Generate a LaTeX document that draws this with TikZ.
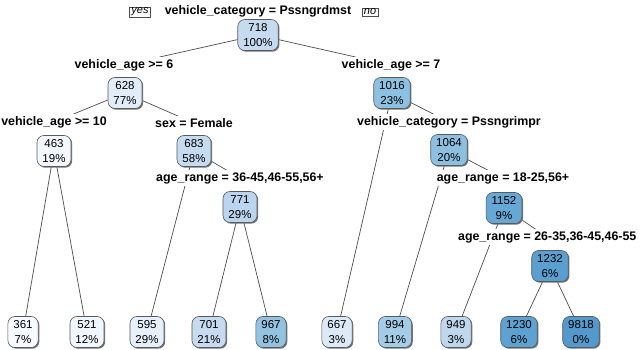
\documentclass[tikz,border=0pt]{standalone}
\usepackage{fontspec}
\setmainfont{Liberation Sans}
\usetikzlibrary{shadows,backgrounds}
\definecolor{c361}{HTML}{F7FBFF}
\definecolor{c463}{HTML}{F2F8FE}
\definecolor{c521}{HTML}{F0F6FD}
\definecolor{c595}{HTML}{E6F0FA}
\definecolor{c628}{HTML}{E1EDF9}
\definecolor{c667}{HTML}{DCE9F6}
\definecolor{c683}{HTML}{C7DBF0}
\definecolor{c701}{HTML}{C6DBEF}
\definecolor{c718}{HTML}{C6DBEF}
\definecolor{c771}{HTML}{BCD5EE}
\definecolor{c949}{HTML}{BED7ED}
\definecolor{c967}{HTML}{93C3E1}
\definecolor{c994}{HTML}{A5CCE7}
\definecolor{c1016}{HTML}{8CC1E2}
\definecolor{c1064}{HTML}{8DC0E0}
\definecolor{c1152}{HTML}{65A8D6}
\definecolor{c1230}{HTML}{5EA2D2}
\definecolor{c1232}{HTML}{5A9FD0}
\definecolor{c9818}{HTML}{5499CB}
\begin{document}
\begin{tikzpicture}[x=1pt,y=-1pt,
  nd/.style={draw=black!65, line width=0.6pt, rounded corners=7pt, align=center,
    font=\fontsize{11.5}{15.5}\selectfont, inner xsep=5.5pt, inner ysep=1pt, minimum height=31pt,
    drop shadow={shadow xshift=1.2pt, shadow yshift=-1.2pt, fill=black!55, opacity=1}},
  lab/.style={fill=white, inner sep=2pt, font=\fontsize{12.4}{14}\bfseries\selectfont},
  yn/.style={draw=black!70, fill=white, line width=0.5pt, inner xsep=2pt, inner ysep=1pt,
    font=\fontsize{11}{12}\selectfont\itshape,
    drop shadow={shadow xshift=0.9pt, shadow yshift=-0.9pt, fill=black!55, opacity=1}},
  edge/.style={draw=black!70, line width=0.7pt}]
\useasboundingbox (0,0) rectangle (640,350);
% root
\node[lab] (lab718) at (258,11) {vehicle\_category = Pssngrdmst};
\node[yn] (yes) at (140,12) {yes};
\node[yn] (no) at (370,12) {no};
\node[nd, fill=c718] (n718) at (258,35) {718\\100\%};
% level 1
\node[lab] (lab628) at (124,65) {vehicle\_age >= 6};
\node[nd, fill=c628] (n628) at (125,93) {628\\77\%};
\node[lab] (lab1016) at (391,65) {vehicle\_age >= 7};
\node[nd, fill=c1016] (n1016) at (392,93) {1016\\23\%};
% level 2
\node[lab] (lab463) at (54,122) {vehicle\_age >= 10};
\node[nd, fill=c463] (n463) at (54,151) {463\\19\%};
\node[lab] (lab683) at (194,123) {sex = Female};
\node[nd, fill=c683] (n683) at (194,151) {683\\58\%};
\node[lab] (lab1064) at (449,122) {vehicle\_category = Pssngrimpr};
\node[nd, fill=c1064] (n1064) at (449,150) {1064\\20\%};
% level 3
\node[lab] (lab771) at (240,178) {age\_range = 36-45,46-55,56+};
\node[nd, fill=c771] (n771) at (240,207) {771\\29\%};
\node[lab] (lab1152) at (503,178) {age\_range = 18-25,56+};
\node[nd, fill=c1152] (n1152) at (504,208) {1152\\9\%};
\node[lab, anchor=west] (lab1232) at (456,237) {age\_range = 26-35,36-45,46-55};
\node[nd, fill=c1232] (n1232) at (550,266) {1232\\6\%};
% leaves
\node[nd, fill=c361] (l361) at (23,332) {361\\7\%};
\node[nd, fill=c521] (l521) at (87,332) {521\\12\%};
\node[nd, fill=c595] (l595) at (147,332) {595\\29\%};
\node[nd, fill=c701] (l701) at (209,332) {701\\21\%};
\node[nd, fill=c967] (l967) at (271,332) {967\\8\%};
\node[nd, fill=c667] (l667) at (337,332) {667\\3\%};
\node[nd, fill=c994] (l994) at (395,332) {994\\11\%};
\node[nd, fill=c949] (l949) at (456,332) {949\\3\%};
\node[nd, fill=c1230] (l1230) at (519,332) {1230\\6\%};
\node[nd, fill=c9818] (l9818) at (581,332) {9818\\0\%};
% edges
\begin{scope}[on background layer]
\draw[edge] (n718) -- (lab628);
\draw[edge] (n718) -- (lab1016);
\draw[edge] (n628) -- (lab463);
\draw[edge] (n628) -- (lab683);
\draw[edge] (n463) -- (l361);
\draw[edge] (n463) -- (l521);
\draw[edge] (n683) -- (l595);
\draw[edge] (n683) -- (lab771);
\draw[edge] (n771) -- (l701);
\draw[edge] (n771) -- (l967);
\draw[edge] (n1016) -- (l667);
\draw[edge] (n1016) -- (lab1064);
\draw[edge] (n1064) -- (l994);
\draw[edge] (n1064) -- (lab1152);
\draw[edge] (n1152) -- (l949);
\draw[edge] (n1152) -- (lab1232);
\draw[edge] (n1232) -- (l1230);
\draw[edge] (n1232) -- (l9818);
\end{scope}
\end{tikzpicture}
\end{document}
